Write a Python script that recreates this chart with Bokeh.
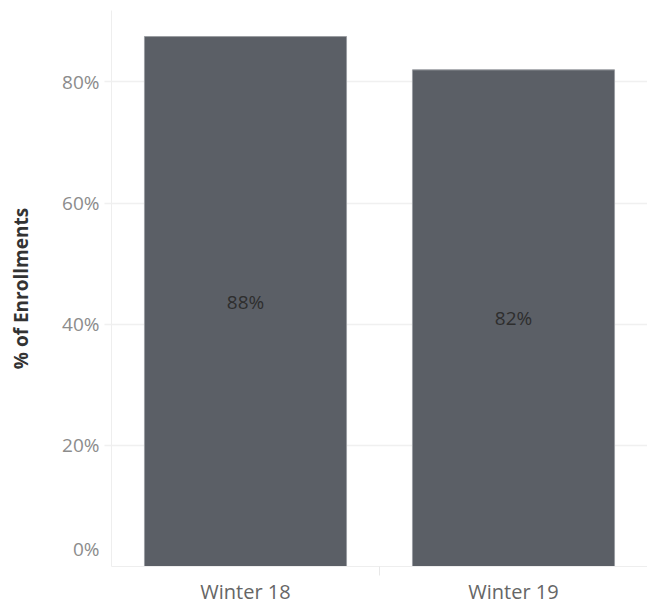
from bokeh.plotting import figure
from bokeh.models import ColumnDataSource, FixedTicker
from bokeh.core.properties import value
from bokeh.embed import file_html
from bokeh.resources import INLINE

terms = ["Winter 18", "Winter 19"]
pct = [0.875, 0.82]
pct_labels = ["88%", "82%"]
y_ticks = [0.0, 0.2, 0.4, 0.6, 0.8]
y_tick_labels = ["0%", "20%", "40%", "60%", "80%"]

FONT = "Open Sans"
Y_MAX = 0.918
FRAME_H = 556
xs = [i + 0.5 for i in range(len(terms))]
src = ColumnDataSource(dict(x=xs, top=pct, mid=[v / 2 for v in pct], lab=pct_labels))

p = figure(width=647, height=607, output_backend="svg", toolbar_location=None,
           x_range=(0, len(terms)), y_range=(0, Y_MAX),
           min_border_left=111, min_border_right=0, min_border_top=10, min_border_bottom=41)
p.outline_line_color = None
p.background_fill_color = "white"
p.border_fill_color = "white"

p.vbar(x="x", top="top", bottom=0, width=0.754, source=src,
       fill_color="#5b5f66", line_color="#9a9da2", line_width=1)
p.text(x="x", y="mid", text="lab", source=src, text_align="center", text_baseline="middle",
       text_font=value(FONT), text_font_size="19px", text_color="#2e2e2e")

# y axis: the "0%" label sits raised above the baseline, as in the reference
zero_pos = round(y_ticks[0] + Y_MAX * 18 / FRAME_H, 4)
label_pos = [zero_pos] + y_ticks[1:]
p.yaxis.ticker = FixedTicker(ticks=label_pos, minor_ticks=y_ticks[1:])
p.yaxis.major_label_overrides = {t: l for t, l in zip(label_pos, y_tick_labels)}
p.yaxis.major_label_text_font = FONT
p.yaxis.major_label_text_font_size = "19px"
p.yaxis.major_label_text_color = "#8c8c8c"
p.yaxis.major_label_standoff = 5
p.yaxis.major_tick_line_color = None
p.yaxis.major_tick_in = 0
p.yaxis.major_tick_out = 0
p.yaxis.minor_tick_in = 0
p.yaxis.minor_tick_out = 7
p.yaxis.minor_tick_line_color = "#f0f0f0"
p.yaxis.minor_tick_line_width = 1.5
p.yaxis.axis_line_color = "#eeeeee"
p.yaxis.axis_label = "% of Enrollments"
p.yaxis.axis_label_text_font = FONT
p.yaxis.axis_label_text_font_style = "bold"
p.yaxis.axis_label_text_font_size = "19px"
p.yaxis.axis_label_text_color = "#333333"
p.yaxis.axis_label_standoff = 25

# x axis
p.xaxis.ticker = FixedTicker(ticks=xs, minor_ticks=[1])
p.xaxis.major_label_overrides = {x: t for x, t in zip(xs, terms)}
p.xaxis.major_label_text_font = FONT
p.xaxis.major_label_text_font_size = "20px"
p.xaxis.major_label_text_color = "#666666"
p.xaxis.major_label_standoff = 2
p.xaxis.major_tick_in = 0
p.xaxis.major_tick_out = 0
p.xaxis.minor_tick_in = 0
p.xaxis.minor_tick_out = 9
p.xaxis.minor_tick_line_color = "#e8e8e8"
p.xaxis.axis_line_color = "#eeeeee"

p.xgrid.grid_line_color = None
p.ygrid.ticker = FixedTicker(ticks=y_ticks[1:])
p.ygrid.grid_line_color = "#f0f0f0"
p.ygrid.grid_line_width = 1.5

open("out.html", "w").write(file_html(p, INLINE))
